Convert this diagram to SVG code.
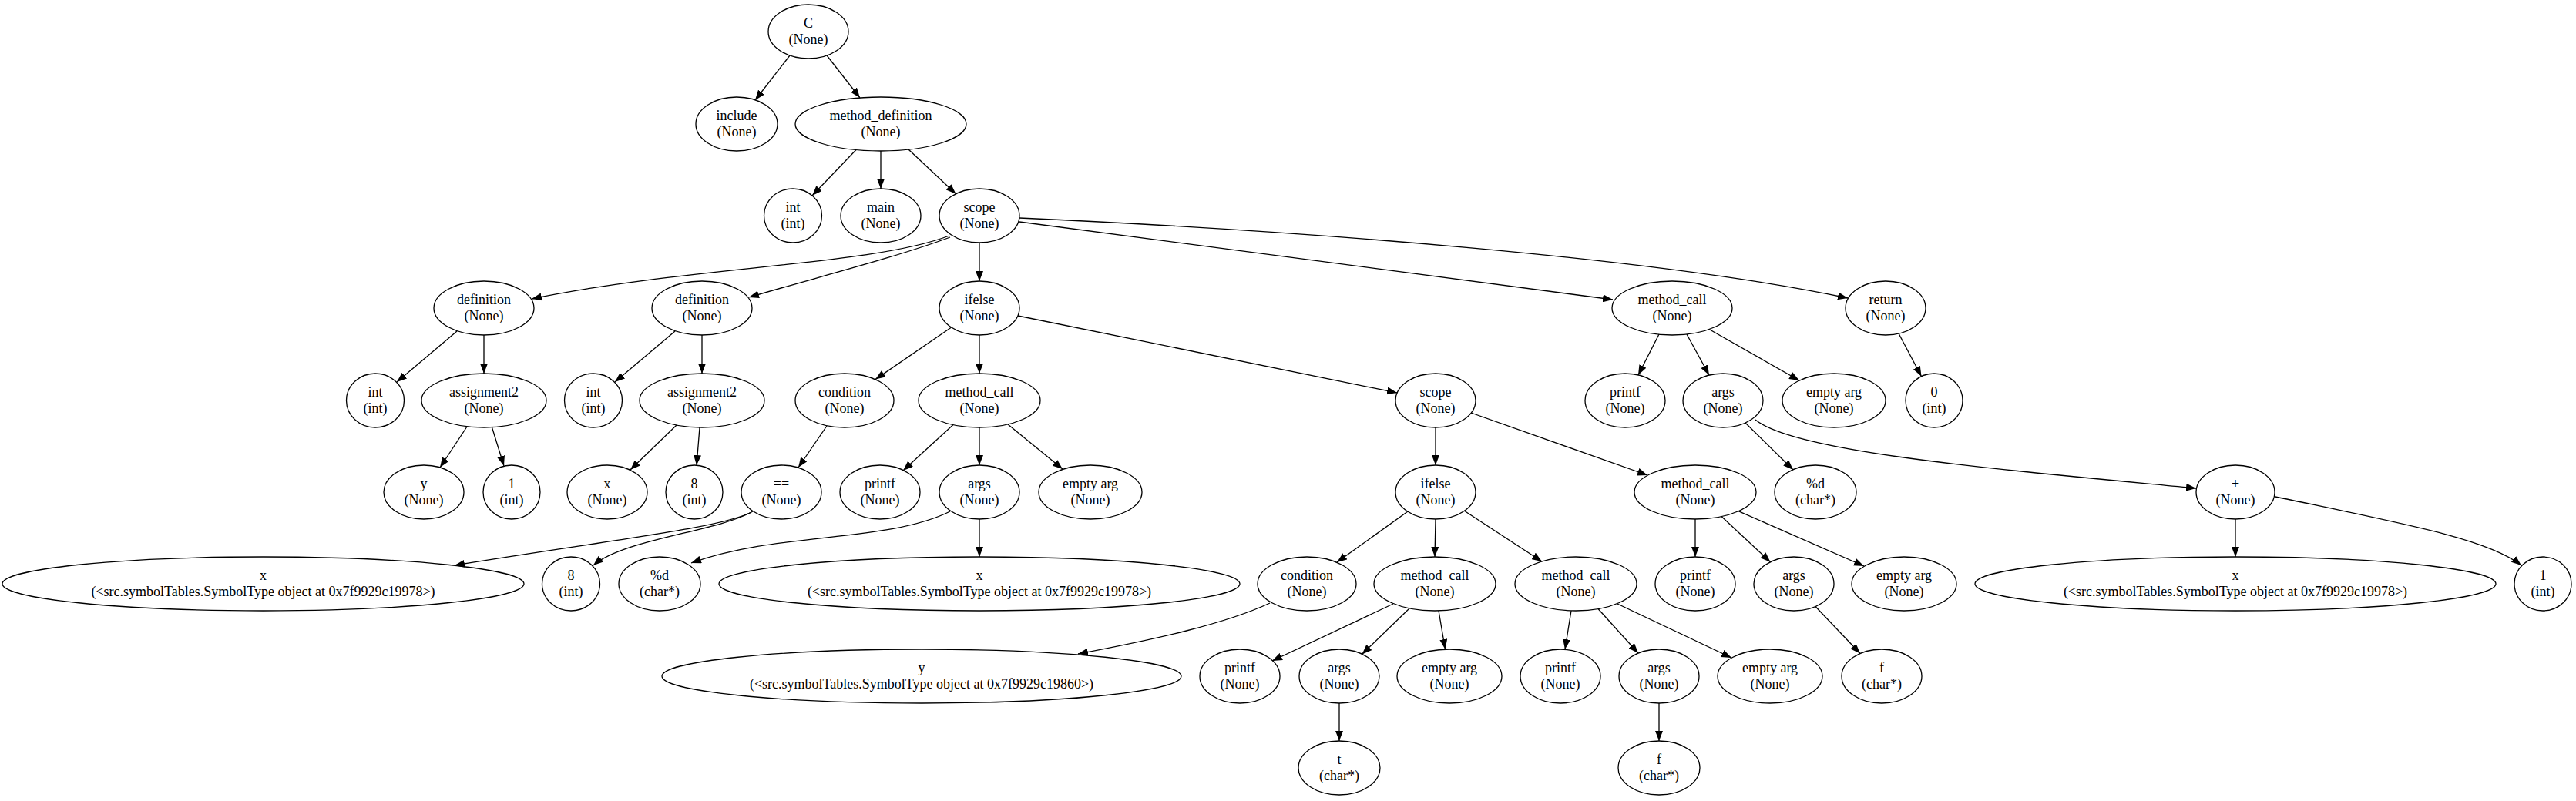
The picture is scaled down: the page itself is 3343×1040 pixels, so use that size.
<svg xmlns="http://www.w3.org/2000/svg" width="3343" height="1040" viewBox="0 0 3343 1040">
<style>
.n ellipse{fill:none;stroke:#000;stroke-width:1.3}
text{font-family:"Liberation Serif","Times New Roman",serif;font-size:18px;text-anchor:middle;fill:#000}
#edges path{fill:none;stroke:#000;stroke-width:1.3;marker-end:url(#a)}
</style>
<defs>
<marker id="a" markerWidth="13" markerHeight="10" refX="13" refY="5" orient="auto" markerUnits="userSpaceOnUse" viewBox="0 0 13 10"><path d="M0,0 L13,5 L0,10 z" fill="#000"/></marker>
</defs>
<rect width="3343" height="1040" fill="#fff"/>
<g id="edges">
<path d="M1025,72 L980,130"/>
<path d="M1073,72 L1116,127"/>
<path d="M1111,194.5 L1054,254"/>
<path d="M1143,196 L1143,245"/>
<path d="M1179,194 L1240.5,251.7"/>
<path d="M1271,315 L1271,365"/>
<path d="M1232,306 C1130,345 900,345 690,388"/>
<path d="M1233,308 C1160,335 1060,360 972,386"/>
<path d="M1323,288 L2093,389"/>
<path d="M1323,283 C1700,300 2150,335 2398,387"/>
<path d="M593,430 L515,496"/>
<path d="M628,435 L628,485"/>
<path d="M606,554 L571,607"/>
<path d="M638.5,555 L654,605"/>
<path d="M876,430 L798,496"/>
<path d="M911,435 L911,485"/>
<path d="M878,552 L818,610"/>
<path d="M908,555 L904,604"/>
<path d="M1234.6,425 L1136,492.6"/>
<path d="M1271,435 L1271,485"/>
<path d="M1321,410 L1813,510"/>
<path d="M1073,553 L1036,607"/>
<path d="M977,664 C940,685 800,700 590,734"/>
<path d="M975,665 C930,690 810,700 770,734"/>
<path d="M1237,551.5 L1172,611"/>
<path d="M1271,555 L1271,604"/>
<path d="M1308,551 L1379,609"/>
<path d="M1233,664 C1150,705 1010,690 897,731"/>
<path d="M1271,674 L1271,723"/>
<path d="M1863,555 L1863,604"/>
<path d="M1909,536 L2138,617"/>
<path d="M1827,664 L1735,730"/>
<path d="M1863,674 L1862,723"/>
<path d="M1900,663 L2001,729"/>
<path d="M1648,783 C1590,810 1500,830 1399,849"/>
<path d="M1808,784 L1651,858"/>
<path d="M1829,790 L1767.5,849.5"/>
<path d="M1867,793 L1875.5,843"/>
<path d="M1738,913 L1738,962"/>
<path d="M2039,793 L2031,843"/>
<path d="M2074,790.5 L2126,848"/>
<path d="M2099,784 L2247,854"/>
<path d="M2153,913 L2153,962"/>
<path d="M2200,674 L2200,723"/>
<path d="M2234,670.6 L2297.5,729.7"/>
<path d="M2256,663.6 L2419,735"/>
<path d="M2356,787.5 L2414,848.5"/>
<path d="M2153,434 L2126,487"/>
<path d="M2189,434 L2218,487"/>
<path d="M2218,427.5 L2335,494"/>
<path d="M2464,433 L2493.5,488.7"/>
<path d="M2265,549 L2327,610"/>
<path d="M2278,545 C2330,588 2600,610 2850,634"/>
<path d="M2901,674 L2901,723"/>
<path d="M2953,645 C3120,680 3230,700 3272,734"/>
</g>
<g id="n0" class="n"><ellipse cx="1049" cy="41" rx="52" ry="35"/><text><tspan x="1049" y="36">C</tspan><tspan x="1049" y="57">(None)</tspan></text></g>
<g id="n1" class="n"><ellipse cx="956" cy="161" rx="53" ry="35"/><text><tspan x="956" y="156">include</tspan><tspan x="956" y="177">(None)</tspan></text></g>
<g id="n2" class="n"><ellipse cx="1143" cy="161" rx="111" ry="35"/><text><tspan x="1143" y="156">method_definition</tspan><tspan x="1143" y="177">(None)</tspan></text></g>
<g id="n3" class="n"><ellipse cx="1029" cy="280" rx="37.5" ry="35"/><text><tspan x="1029" y="275">int</tspan><tspan x="1029" y="296">(int)</tspan></text></g>
<g id="n4" class="n"><ellipse cx="1143" cy="280" rx="52" ry="35"/><text><tspan x="1143" y="275">main</tspan><tspan x="1143" y="296">(None)</tspan></text></g>
<g id="n5" class="n"><ellipse cx="1271" cy="280" rx="52" ry="35"/><text><tspan x="1271" y="275">scope</tspan><tspan x="1271" y="296">(None)</tspan></text></g>
<g id="n6" class="n"><ellipse cx="628" cy="400" rx="65" ry="35"/><text><tspan x="628" y="395">definition</tspan><tspan x="628" y="416">(None)</tspan></text></g>
<g id="n7" class="n"><ellipse cx="911" cy="400" rx="65" ry="35"/><text><tspan x="911" y="395">definition</tspan><tspan x="911" y="416">(None)</tspan></text></g>
<g id="n8" class="n"><ellipse cx="1271" cy="400" rx="52" ry="35"/><text><tspan x="1271" y="395">ifelse</tspan><tspan x="1271" y="416">(None)</tspan></text></g>
<g id="n9" class="n"><ellipse cx="2170" cy="400" rx="78" ry="35"/><text><tspan x="2170" y="395">method_call</tspan><tspan x="2170" y="416">(None)</tspan></text></g>
<g id="n10" class="n"><ellipse cx="2447" cy="400" rx="52" ry="35"/><text><tspan x="2447" y="395">return</tspan><tspan x="2447" y="416">(None)</tspan></text></g>
<g id="n11" class="n"><ellipse cx="487" cy="520" rx="37.5" ry="35"/><text><tspan x="487" y="515">int</tspan><tspan x="487" y="536">(int)</tspan></text></g>
<g id="n12" class="n"><ellipse cx="628" cy="520" rx="81" ry="35"/><text><tspan x="628" y="515">assignment2</tspan><tspan x="628" y="536">(None)</tspan></text></g>
<g id="n13" class="n"><ellipse cx="770" cy="520" rx="37.5" ry="35"/><text><tspan x="770" y="515">int</tspan><tspan x="770" y="536">(int)</tspan></text></g>
<g id="n14" class="n"><ellipse cx="911" cy="520" rx="81" ry="35"/><text><tspan x="911" y="515">assignment2</tspan><tspan x="911" y="536">(None)</tspan></text></g>
<g id="n15" class="n"><ellipse cx="1096" cy="520" rx="64" ry="35"/><text><tspan x="1096" y="515">condition</tspan><tspan x="1096" y="536">(None)</tspan></text></g>
<g id="n16" class="n"><ellipse cx="1271" cy="520" rx="79" ry="35"/><text><tspan x="1271" y="515">method_call</tspan><tspan x="1271" y="536">(None)</tspan></text></g>
<g id="n17" class="n"><ellipse cx="1863" cy="520" rx="52" ry="35"/><text><tspan x="1863" y="515">scope</tspan><tspan x="1863" y="536">(None)</tspan></text></g>
<g id="n18" class="n"><ellipse cx="2109" cy="520" rx="52" ry="35"/><text><tspan x="2109" y="515">printf</tspan><tspan x="2109" y="536">(None)</tspan></text></g>
<g id="n19" class="n"><ellipse cx="2236" cy="520" rx="52" ry="35"/><text><tspan x="2236" y="515">args</tspan><tspan x="2236" y="536">(None)</tspan></text></g>
<g id="n20" class="n"><ellipse cx="2380" cy="520" rx="67" ry="35"/><text><tspan x="2380" y="515">empty arg</tspan><tspan x="2380" y="536">(None)</tspan></text></g>
<g id="n21" class="n"><ellipse cx="2510" cy="520" rx="37" ry="35"/><text><tspan x="2510" y="515">0</tspan><tspan x="2510" y="536">(int)</tspan></text></g>
<g id="n22" class="n"><ellipse cx="550" cy="639" rx="52" ry="35"/><text><tspan x="550" y="634">y</tspan><tspan x="550" y="655">(None)</tspan></text></g>
<g id="n23" class="n"><ellipse cx="664" cy="639" rx="37" ry="35"/><text><tspan x="664" y="634">1</tspan><tspan x="664" y="655">(int)</tspan></text></g>
<g id="n24" class="n"><ellipse cx="788" cy="639" rx="52" ry="35"/><text><tspan x="788" y="634">x</tspan><tspan x="788" y="655">(None)</tspan></text></g>
<g id="n25" class="n"><ellipse cx="901" cy="639" rx="37" ry="35"/><text><tspan x="901" y="634">8</tspan><tspan x="901" y="655">(int)</tspan></text></g>
<g id="n26" class="n"><ellipse cx="1014" cy="639" rx="52" ry="35"/><text><tspan x="1014" y="634">==</tspan><tspan x="1014" y="655">(None)</tspan></text></g>
<g id="n27" class="n"><ellipse cx="1142" cy="639" rx="52" ry="35"/><text><tspan x="1142" y="634">printf</tspan><tspan x="1142" y="655">(None)</tspan></text></g>
<g id="n28" class="n"><ellipse cx="1271" cy="639" rx="52" ry="35"/><text><tspan x="1271" y="634">args</tspan><tspan x="1271" y="655">(None)</tspan></text></g>
<g id="n29" class="n"><ellipse cx="1415" cy="639" rx="67" ry="35"/><text><tspan x="1415" y="634">empty arg</tspan><tspan x="1415" y="655">(None)</tspan></text></g>
<g id="n30" class="n"><ellipse cx="1863" cy="639" rx="52" ry="35"/><text><tspan x="1863" y="634">ifelse</tspan><tspan x="1863" y="655">(None)</tspan></text></g>
<g id="n31" class="n"><ellipse cx="2200" cy="639" rx="79" ry="35"/><text><tspan x="2200" y="634">method_call</tspan><tspan x="2200" y="655">(None)</tspan></text></g>
<g id="n32" class="n"><ellipse cx="2356" cy="639" rx="53" ry="35"/><text><tspan x="2356" y="634">%d</tspan><tspan x="2356" y="655">(char*)</tspan></text></g>
<g id="n33" class="n"><ellipse cx="2901" cy="639" rx="51" ry="35"/><text><tspan x="2901" y="634">+</tspan><tspan x="2901" y="655">(None)</tspan></text></g>
<g id="n34" class="n"><ellipse cx="341.5" cy="758" rx="338.5" ry="35"/><text><tspan x="341.5" y="753">x</tspan><tspan x="341.5" y="774">(&lt;src.symbolTables.SymbolType object at 0x7f9929c19978&gt;)</tspan></text></g>
<g id="n35" class="n"><ellipse cx="741" cy="758" rx="37.5" ry="35"/><text><tspan x="741" y="753">8</tspan><tspan x="741" y="774">(int)</tspan></text></g>
<g id="n36" class="n"><ellipse cx="856" cy="758" rx="53" ry="35"/><text><tspan x="856" y="753">%d</tspan><tspan x="856" y="774">(char*)</tspan></text></g>
<g id="n37" class="n"><ellipse cx="1271" cy="758" rx="338" ry="35"/><text><tspan x="1271" y="753">x</tspan><tspan x="1271" y="774">(&lt;src.symbolTables.SymbolType object at 0x7f9929c19978&gt;)</tspan></text></g>
<g id="n38" class="n"><ellipse cx="1696" cy="758" rx="64" ry="35"/><text><tspan x="1696" y="753">condition</tspan><tspan x="1696" y="774">(None)</tspan></text></g>
<g id="n39" class="n"><ellipse cx="1862" cy="758" rx="79" ry="35"/><text><tspan x="1862" y="753">method_call</tspan><tspan x="1862" y="774">(None)</tspan></text></g>
<g id="n40" class="n"><ellipse cx="2045" cy="758" rx="79" ry="35"/><text><tspan x="2045" y="753">method_call</tspan><tspan x="2045" y="774">(None)</tspan></text></g>
<g id="n41" class="n"><ellipse cx="2200" cy="758" rx="52" ry="35"/><text><tspan x="2200" y="753">printf</tspan><tspan x="2200" y="774">(None)</tspan></text></g>
<g id="n42" class="n"><ellipse cx="2328" cy="758" rx="52" ry="35"/><text><tspan x="2328" y="753">args</tspan><tspan x="2328" y="774">(None)</tspan></text></g>
<g id="n43" class="n"><ellipse cx="2471" cy="758" rx="68" ry="35"/><text><tspan x="2471" y="753">empty arg</tspan><tspan x="2471" y="774">(None)</tspan></text></g>
<g id="n44" class="n"><ellipse cx="2901" cy="758" rx="338" ry="35"/><text><tspan x="2901" y="753">x</tspan><tspan x="2901" y="774">(&lt;src.symbolTables.SymbolType object at 0x7f9929c19978&gt;)</tspan></text></g>
<g id="n45" class="n"><ellipse cx="3300" cy="758" rx="37" ry="35"/><text><tspan x="3300" y="753">1</tspan><tspan x="3300" y="774">(int)</tspan></text></g>
<g id="n46" class="n"><ellipse cx="1196" cy="878" rx="337" ry="35"/><text><tspan x="1196" y="873">y</tspan><tspan x="1196" y="894">(&lt;src.symbolTables.SymbolType object at 0x7f9929c19860&gt;)</tspan></text></g>
<g id="n47" class="n"><ellipse cx="1609" cy="878" rx="52" ry="35"/><text><tspan x="1609" y="873">printf</tspan><tspan x="1609" y="894">(None)</tspan></text></g>
<g id="n48" class="n"><ellipse cx="1738" cy="878" rx="52" ry="35"/><text><tspan x="1738" y="873">args</tspan><tspan x="1738" y="894">(None)</tspan></text></g>
<g id="n49" class="n"><ellipse cx="1881" cy="878" rx="68" ry="35"/><text><tspan x="1881" y="873">empty arg</tspan><tspan x="1881" y="894">(None)</tspan></text></g>
<g id="n50" class="n"><ellipse cx="2025" cy="878" rx="52" ry="35"/><text><tspan x="2025" y="873">printf</tspan><tspan x="2025" y="894">(None)</tspan></text></g>
<g id="n51" class="n"><ellipse cx="2153" cy="878" rx="52" ry="35"/><text><tspan x="2153" y="873">args</tspan><tspan x="2153" y="894">(None)</tspan></text></g>
<g id="n52" class="n"><ellipse cx="2297" cy="878" rx="68" ry="35"/><text><tspan x="2297" y="873">empty arg</tspan><tspan x="2297" y="894">(None)</tspan></text></g>
<g id="n53" class="n"><ellipse cx="2442" cy="878" rx="52" ry="35"/><text><tspan x="2442" y="873">f</tspan><tspan x="2442" y="894">(char*)</tspan></text></g>
<g id="n54" class="n"><ellipse cx="1738" cy="997" rx="53" ry="35"/><text><tspan x="1738" y="992">t</tspan><tspan x="1738" y="1013">(char*)</tspan></text></g>
<g id="n55" class="n"><ellipse cx="2153" cy="997" rx="53" ry="35"/><text><tspan x="2153" y="992">f</tspan><tspan x="2153" y="1013">(char*)</tspan></text></g>
</svg>
